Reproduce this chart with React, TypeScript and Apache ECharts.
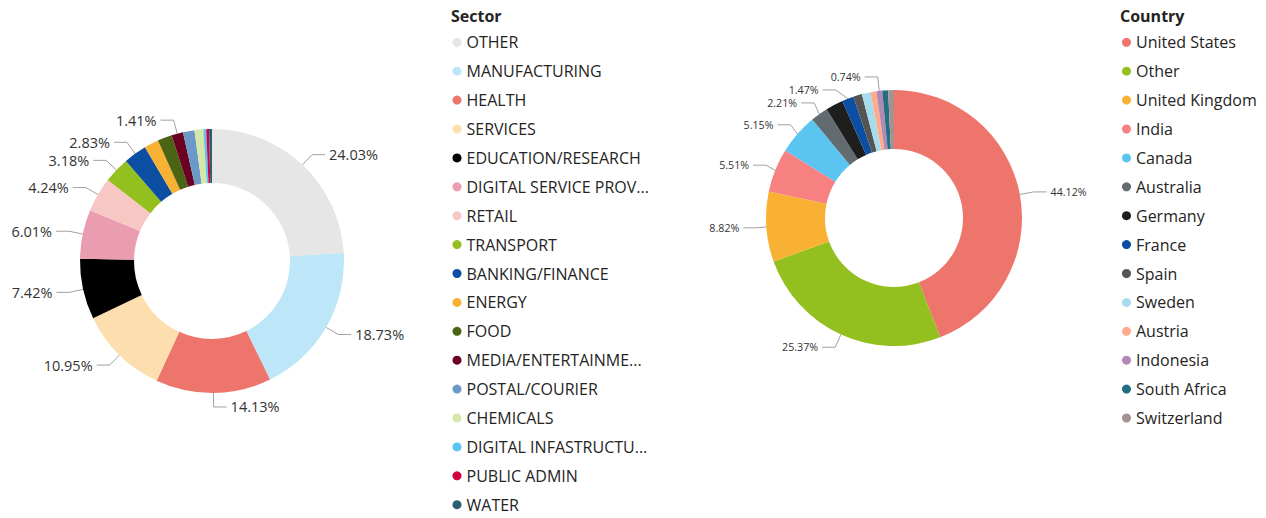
import React, { useEffect, useRef } from "react";
import * as echarts from "echarts";

const sectorNames = [
  "OTHER",
  "MANUFACTURING",
  "HEALTH",
  "SERVICES",
  "EDUCATION/RESEARCH",
  "DIGITAL SERVICE PROVIDER",
  "RETAIL",
  "TRANSPORT",
  "BANKING/FINANCE",
  "ENERGY",
  "FOOD",
  "MEDIA/ENTERTAINMENT",
  "POSTAL/COURIER",
  "CHEMICALS",
  "DIGITAL INFASTRUCTURE",
  "PUBLIC ADMIN",
  "WATER",
];
// legend texts as shown (long names are cut off in the legend)
const sectorLegendLabels = [
  "OTHER",
  "MANUFACTURING",
  "HEALTH",
  "SERVICES",
  "EDUCATION/RESEARCH",
  "DIGITAL SERVICE PROV...",
  "RETAIL",
  "TRANSPORT",
  "BANKING/FINANCE",
  "ENERGY",
  "FOOD",
  "MEDIA/ENTERTAINME...",
  "POSTAL/COURIER",
  "CHEMICALS",
  "DIGITAL INFASTRUCTU...",
  "PUBLIC ADMIN",
  "WATER",
];
const sectorCounts = [68, 53, 40, 31, 21, 17, 12, 9, 8, 5, 5, 4, 4, 3, 1, 1, 1];
const sectorColors = [
  "#E6E6E6", "#BDE6F8", "#EE756C", "#FDDFAF", "#000000", "#EA9CB1",
  "#F7C7C4", "#93C01F", "#0B4EA2", "#F8B133", "#4A6414", "#6A0022",
  "#6C9AC8", "#D5E8A7", "#5BC5F1", "#D0003E", "#2B5E72",
];
const sectorLabelled = [
  "OTHER", "MANUFACTURING", "HEALTH", "SERVICES", "EDUCATION/RESEARCH",
  "DIGITAL SERVICE PROVIDER", "RETAIL", "TRANSPORT", "BANKING/FINANCE",
  "MEDIA/ENTERTAINMENT",
];

const countryNames = [
  "United States", "Other", "United Kingdom", "India", "Canada", "Australia",
  "Germany", "France", "Spain", "Sweden", "Austria", "Indonesia",
  "South Africa", "Switzerland",
];
const countryCounts = [120, 69, 24, 15, 14, 6, 6, 4, 3, 3, 2, 2, 2, 2];
const countryColors = [
  "#EE756C", "#93C01F", "#F8B133", "#F78181", "#5BC5F1", "#626C70",
  "#1E1E1E", "#0B4EA2", "#555555", "#A5DDEF", "#FFAB8C", "#B488B4",
  "#226F83", "#A79090",
];
const countryLabelled = [
  "United States", "Other", "United Kingdom", "India", "Canada", "Australia",
  "France", "Indonesia",
];

const FONT = "'Segoe UI', 'Open Sans', sans-serif";

function buildData(names: string[], counts: number[], colors: string[], labelled: string[], fontSize: number) {
  const total = counts.reduce((a, b) => a + b, 0);
  return names.map((name, i) => {
    const show = labelled.indexOf(name) >= 0;
    return {
      name,
      value: counts[i],
      itemStyle: { color: colors[i] },
      label: {
        show,
        formatter: ((counts[i] / total) * 100).toFixed(2) + "%",
        fontSize,
      },
      labelLine: { show },
    };
  });
}

export default function App() {
  const ref = useRef<HTMLDivElement>(null);
  useEffect(() => {
    if (!ref.current) return;
    const chart = echarts.init(ref.current, undefined, { renderer: "svg" });
    const legendText = {
      fontFamily: FONT,
      fontSize: 16,
      color: "#252423",
      lineHeight: 20,
    };
    const titleText = { fontFamily: FONT, fontSize: 16, fontWeight: "bold", color: "#252423" };
    const legendBase = {
      orient: "vertical",
      top: 32.3,
      height: 486,
      padding: 0,
      icon: "circle",
      itemWidth: 9,
      itemHeight: 9,
      itemGap: 8.9,
      textStyle: legendText,
      selectedMode: false,
    };
    chart.setOption({
      animation: false,
      textStyle: { fontFamily: FONT },
      title: [
        { text: "Sector", left: 451, top: 8, padding: 0, textStyle: titleText },
        { text: "Country", left: 1120, top: 8, padding: 0, textStyle: titleText },
      ],
      legend: [
        {
          ...legendBase,
          data: sectorNames,
          left: 452.5,
          formatter: (name: string) => {
            const i = sectorNames.indexOf(name);
            return i >= 0 ? sectorLegendLabels[i] : name;
          },
        },
        {
          ...legendBase,
          data: countryNames,
          left: 1122,
        },
      ],
      series: [
        {
          type: "pie",
          center: [212, 261],
          radius: [78, 132],
          startAngle: 90,
          clockwise: true,
          avoidLabelOverlap: true,
          label: { color: "#333333", fontFamily: FONT, distanceToLabelLine: 4 },
          labelLine: { length: 14, length2: 13, lineStyle: { color: "#A0A0A0", width: 1 } },
          emphasis: { disabled: true },
          data: buildData(sectorNames, sectorCounts, sectorColors, sectorLabelled, 14.5),
        },
        {
          type: "pie",
          center: [894, 218],
          radius: [69, 128],
          startAngle: 90,
          clockwise: true,
          avoidLabelOverlap: true,
          label: { color: "#333333", fontFamily: FONT, distanceToLabelLine: 4 },
          labelLine: { length: 14, length2: 13, lineStyle: { color: "#A0A0A0", width: 1 } },
          emphasis: { disabled: true },
          data: buildData(countryNames, countryCounts, countryColors, countryLabelled, 10.7),
        },
      ],
    });
    return () => chart.dispose();
  }, []);
  return (
    <div
      ref={ref}
      style={{ position: "absolute", left: 0, top: 0, width: 1266, height: 518, background: "#fff" }}
    />
  );
}
